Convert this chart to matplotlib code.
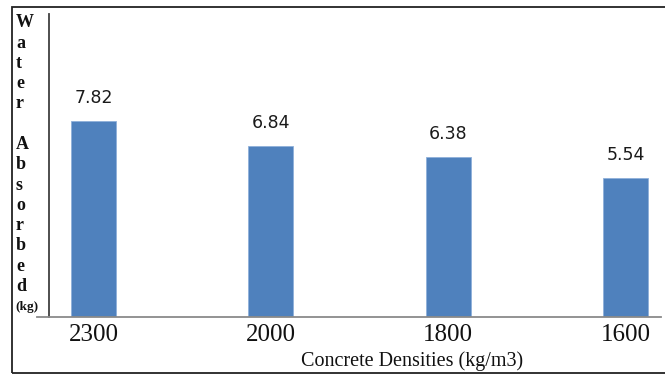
import matplotlib
matplotlib.use("Agg")
import matplotlib.pyplot as plt
from matplotlib.patches import Rectangle

densities = ["2300", "2000", "1800", "1600"]
water_absorbed = [7.82, 6.84, 6.38, 5.54]
x_title = "Concrete Densities (kg/m3)"
y_title_lines = ["W", "a", "t", "e", "r", "", "A", "b", "s", "o", "r", "b", "e", "d"]
y_unit = "(kg)"

W, H = 665, 374
fig = plt.figure(figsize=(W / 100, H / 100), dpi=100)

# axes box in pixel terms
ax_left, ax_right, ax_top, ax_bottom = 37, 661, 14, 316.7
ax = fig.add_axes([ax_left / W, 1 - ax_bottom / H,
                   (ax_right - ax_left) / W, (ax_bottom - ax_top) / H])

pos = list(range(len(densities)))
ax.bar(pos, water_absorbed, width=0.254, color="#4F81BD",
       edgecolor="#8FB0DA", linewidth=0.6, zorder=2)

for p, v in zip(pos, water_absorbed):
    ax.annotate(f"{v:.2f}", (p, v), xytext=(0, 10), textcoords="offset points",
                ha="center", va="bottom", fontsize=12.5,
                family="DejaVu Sans", color="#1a1a1a")

ax.set_xlim(-0.318, 3.2)
ax.set_ylim(0, 12.1)
ax.set_xticks(pos)
ax.set_xticklabels(densities, family="Liberation Serif", fontsize=18, color="#111111")
ax.tick_params(axis="x", length=0, pad=5)
ax.set_yticks([])

for s in ("top", "right"):
    ax.spines[s].set_visible(False)
ax.spines["left"].set_position(("data", -0.25))
ax.spines["left"].set_color("#404040")
ax.spines["left"].set_linewidth(1.3)
ax.spines["bottom"].set_color("#8a8a8a")
ax.spines["bottom"].set_linewidth(1.3)

fig.text(412 / W, 1 - 361.5 / H, x_title, ha="center", va="center",
         family="Liberation Serif", fontsize=14.5, color="#111111")

# stacked vertical y-axis title
y0, step = 22.7, 20.3
for i, ch in enumerate(y_title_lines):
    if ch:
        fig.text(16 / W, 1 - (y0 + i * step) / H, ch, ha="left", va="center",
                 family="Liberation Serif", fontweight="bold", fontsize=13,
                 color="#111111")
fig.text(15 / W, 1 - (y0 + len(y_title_lines) * step) / H, y_unit, ha="left",
         va="center", family="Liberation Serif", fontweight="bold", fontsize=9.5,
         color="#111111")

# outer frame
fig.patches.append(Rectangle((12 / W, 1 - 373 / H), (W + 10 - 12) / W, (373 - 7) / H,
                             transform=fig.transFigure, fill=False,
                             edgecolor="#222222", linewidth=1.3))

fig.savefig("out.png", dpi=100)
